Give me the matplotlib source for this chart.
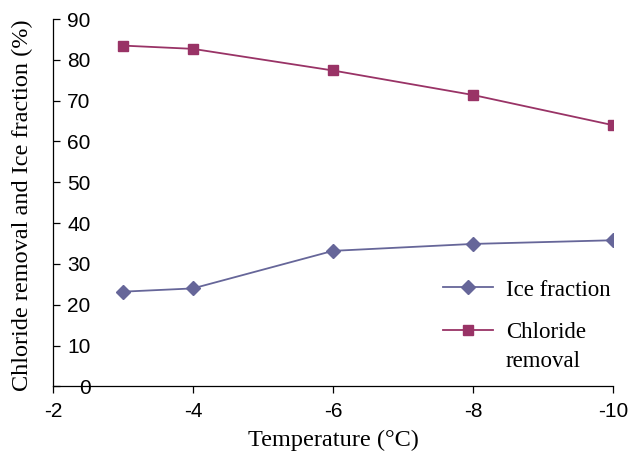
"""Chloride removal and ice fraction versus freezing temperature."""

import matplotlib

matplotlib.use("Agg")
import matplotlib.pyplot as plt

temperature = [-3, -4, -6, -8, -10]
ice_fraction = [23.2, 24.0, 33.2, 34.9, 35.8]
chloride_removal = [83.5, 82.7, 77.4, 71.4, 64.0]
x_ticks = [-2, -4, -6, -8, -10]
y_ticks = list(range(0, 100, 10))

SERIF = "Liberation Serif"
SANS = "Liberation Sans"

fig = plt.figure(figsize=(6.3, 4.54), dpi=100)
ax = fig.add_axes([0.084, 0.149, 0.889, 0.809])

ax.plot(temperature, ice_fraction, color="#666699", linewidth=1.3,
        marker="D", markersize=7, label="Ice fraction")
ax.plot(temperature, chloride_removal, color="#993366", linewidth=1.3,
        marker="s", markersize=7, label="Chloride")

ax.set_xlim(-2, -10)
ax.set_ylim(0, 90)
ax.set_xticks(x_ticks)
ax.set_yticks(y_ticks)
ax.set_xticklabels([str(t) for t in x_ticks], fontfamily=SANS, fontsize=15)
ax.set_yticklabels([str(t) for t in y_ticks], fontfamily=SANS, fontsize=15)

ax.tick_params(axis="x", direction="out", length=5, width=0.9, pad=6)
ax.tick_params(axis="y", direction="in", length=5, width=0.9, pad=-27)

for side in ("top", "right"):
    ax.spines[side].set_visible(False)
for side in ("left", "bottom"):
    ax.spines[side].set_linewidth(0.9)

ax.set_xlabel("Temperature (°C)", fontfamily=SERIF, fontsize=17.5)
ax.set_ylabel("Chloride removal and Ice fraction (%)", fontfamily=SERIF,
              fontsize=17.5)
ax.xaxis.set_label_coords(0.5, -0.119)
ax.yaxis.set_label_coords(-0.036, 0.493)

leg = ax.legend(loc="upper left", bbox_to_anchor=(0.696, 0.291), frameon=False,
                prop={"family": SERIF, "size": 16.5}, handlelength=2.2,
                handletextpad=0.55, labelspacing=0.95, borderpad=0,
                borderaxespad=0)

# second line of the chloride label, under "Chloride" like the original
fig.canvas.draw()
chl_box = leg.get_texts()[1].get_window_extent()
fig.text(chl_box.x0 / fig.bbox.width, (chl_box.y0 - 29) / fig.bbox.height,
         "removal", fontfamily=SERIF, fontsize=16.5, ha="left", va="bottom")

fig.savefig("out.png", dpi=100)
